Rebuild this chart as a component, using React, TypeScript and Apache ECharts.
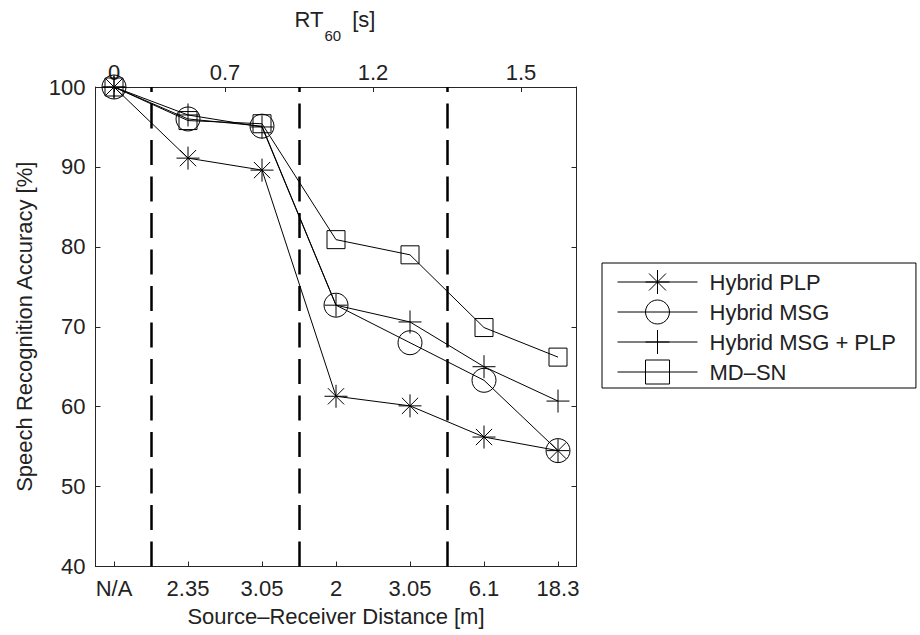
import React, { useEffect, useRef } from "react";
import * as echarts from "echarts";

// Bottom axis: source-receiver distance labels (one per condition)
const distanceLabels = ["N/A", "2.35", "3.05", "2", "3.05", "6.1", "18.3"];
const conditionPositions = [1, 2, 3, 4, 5, 6, 7];

// Top axis: reverberation time labels
const rtLabels = ["0", "0.7", "1.2", "1.5"];
const rtPositions = [1, 2.5, 4.5, 6.5];

// Dashed separators between room groups
const dividers = [1.5, 3.5, 5.5];

// Series values (Speech Recognition Accuracy, %)
const seriesNames = ["Hybrid PLP", "Hybrid MSG", "Hybrid MSG + PLP", "MD–SN"];
const hybridPLP = [100, 91.1, 89.6, 61.3, 60.1, 56.2, 54.5];
const hybridMSG = [100, 96.0, 95.1, 72.7, 68.0, 63.3, 54.5];
const hybridMSGPLP = [100, 96.5, 95.0, 72.7, 70.6, 65.0, 60.7];
const mdSN = [100, 95.8, 95.4, 80.9, 79.0, 69.9, 66.2];

const yTicks = { min: 40, max: 100, interval: 10 };

const ASTERISK =
  "path://M0 -1 L0 1 M-1 0 L1 0 M-0.707 -0.707 L0.707 0.707 M-0.707 0.707 L0.707 -0.707";
const PLUS = "path://M0 -1 L0 1 M-1 0 L1 0";
const SQUARE = "path://M-1 -1 L1 -1 L1 1 L-1 1 Z";

const TEXT = "#222222";
const AXIS = "#262626";
const FONT = "Liberation Sans";

function findLabel(positions: number[], labels: string[], v: number) {
  for (let i = 0; i < positions.length; i++) {
    if (Math.abs(positions[i] - v) < 1e-6) return labels[i];
  }
  return "";
}

export default function App() {
  const ref = useRef<HTMLDivElement>(null);

  useEffect(() => {
    if (!ref.current) return;
    document.body.style.margin = "0";
    const chart = echarts.init(ref.current, undefined, { renderer: "svg" });

    const mkSeries = (
      name: string,
      values: number[],
      symbol: string,
      symbolSize: number,
      extra: any = {}
    ) => ({
      name,
      type: "line",
      xAxisIndex: 0,
      yAxisIndex: 0,
      data: values.map((v, i) => [conditionPositions[i], v]),
      symbol,
      symbolSize,
      showAllSymbol: true,
      itemStyle: { color: "none", borderColor: "#000", borderWidth: 1 },
      lineStyle: { color: "#000", width: 1 },
      emphasis: { disabled: true },
      z: 3,
      ...extra,
    });

    const axisLineStyle = { color: AXIS, width: 1 };

    const option: any = {
      animation: false,
      backgroundColor: "#ffffff",
      textStyle: { fontFamily: FONT },
      grid: { left: 95.5, top: 87, width: 481, height: 479.5, containLabel: false },
      xAxis: [
        {
          type: "value",
          position: "bottom",
          min: 0.75,
          max: 7.25,
          name: "Source–Receiver Distance [m]",
          nameLocation: "middle",
          nameGap: 39,
          nameTextStyle: { fontSize: 22, color: TEXT, fontFamily: FONT },
          axisLine: { show: true, onZero: false, lineStyle: axisLineStyle },
          axisTick: {
            show: true,
            inside: true,
            length: 5,
            customValues: conditionPositions,
            lineStyle: axisLineStyle,
          },
          axisLabel: {
            show: true,
            customValues: conditionPositions,
            formatter: (v: number) => findLabel(conditionPositions, distanceLabels, v),
            fontSize: 22,
            color: TEXT,
            fontFamily: FONT,
            margin: 11,
          },
          splitLine: { show: false },
        },
        {
          type: "value",
          position: "top",
          min: 0.75,
          max: 7.25,
          axisLine: { show: true, onZero: false, lineStyle: axisLineStyle },
          axisTick: {
            show: true,
            inside: true,
            length: 5,
            customValues: rtPositions,
            lineStyle: axisLineStyle,
          },
          axisLabel: {
            show: true,
            customValues: rtPositions,
            formatter: (v: number) => findLabel(rtPositions, rtLabels, v),
            fontSize: 22,
            color: TEXT,
            fontFamily: FONT,
            margin: 4,
          },
          splitLine: { show: false },
        },
      ],
      yAxis: [
        {
          type: "value",
          position: "left",
          min: yTicks.min,
          max: yTicks.max,
          interval: yTicks.interval,
          name: "Speech Recognition Accuracy [%]",
          nameLocation: "middle",
          nameGap: 60,
          nameTextStyle: { fontSize: 22, color: TEXT, fontFamily: FONT },
          axisLine: { show: true, onZero: false, lineStyle: axisLineStyle },
          axisTick: { show: true, inside: true, length: 5, lineStyle: axisLineStyle },
          axisLabel: { fontSize: 22, color: TEXT, fontFamily: FONT, margin: 10 },
          splitLine: { show: false },
        },
        {
          type: "value",
          position: "right",
          min: yTicks.min,
          max: yTicks.max,
          interval: yTicks.interval,
          axisLine: { show: true, onZero: false, lineStyle: axisLineStyle },
          axisTick: { show: true, inside: true, length: 5, lineStyle: axisLineStyle },
          axisLabel: { show: false },
          splitLine: { show: false },
        },
      ],
      legend: {
        orient: "vertical",
        left: 602,
        top: 263,
        padding: [4, 20, 1, 15],
        itemWidth: 80,
        itemHeight: 30,
        itemGap: 0,
        backgroundColor: "#ffffff",
        borderColor: "#000",
        borderWidth: 1,
        selectedMode: false,
        itemStyle: { borderWidth: 1 },
        lineStyle: { width: 1 },
        textStyle: {
          fontSize: 22,
          color: TEXT,
          fontFamily: FONT,
          lineHeight: 30,
          padding: [0, 0, 0, 7],
        },
        data: seriesNames,
      },
      graphic: [
        {
          type: "text",
          x: 335,
          y: 8,
          silent: true,
          style: {
            text: "{m|RT}{s|60}{g|[s]}",
            align: "center",
            verticalAlign: "top",
            fill: TEXT,
            rich: {
              m: { fontSize: 22, lineHeight: 26, fontFamily: FONT, fill: TEXT, verticalAlign: "top" },
              s: {
                fontSize: 15,
                lineHeight: 18,
                fontFamily: FONT,
                fill: TEXT,
                padding: [20, 0, 0, 1],
                verticalAlign: "top",
              },
              g: {
                fontSize: 22,
                lineHeight: 26,
                fontFamily: FONT,
                fill: TEXT,
                padding: [0, 0, 0, 11],
                verticalAlign: "top",
              },
            },
          },
        },
      ],
      series: [
        mkSeries(seriesNames[0], hybridPLP, ASTERISK, 23, {
          markLine: {
            silent: true,
            symbol: ["none", "none"],
            label: { show: false },
            emphasis: { disabled: true },
            lineStyle: { color: "#000", width: 2.5, type: [25, 11.5] },
            data: dividers.map((v) => ({ xAxis: v })),
          },
        }),
        mkSeries(seriesNames[1], hybridMSG, "circle", 24),
        mkSeries(seriesNames[2], hybridMSGPLP, PLUS, 23),
        mkSeries(seriesNames[3], mdSN, SQUARE, 18),
      ],
    };

    chart.setOption(option);
    return () => {
      chart.dispose();
    };
  }, []);

  return (
    <div
      ref={ref}
      style={{ position: "fixed", left: 0, top: 0, width: 920, height: 635, background: "#fff" }}
    />
  );
}
